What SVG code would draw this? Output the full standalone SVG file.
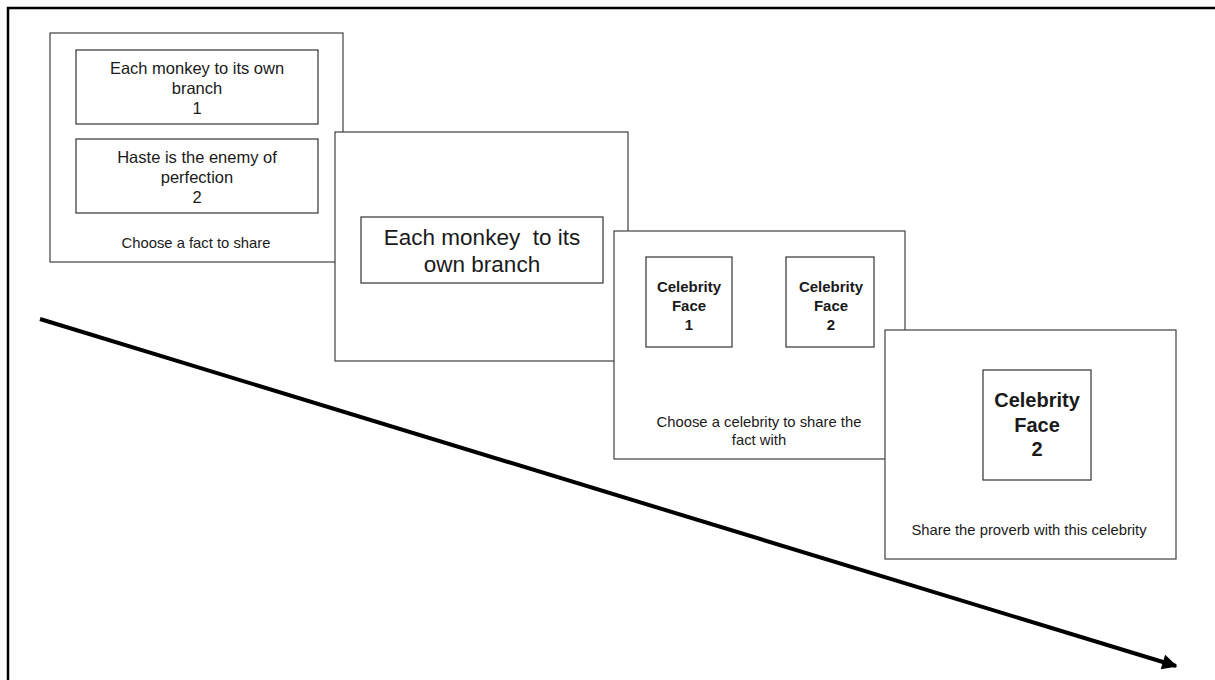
<svg xmlns="http://www.w3.org/2000/svg" width="1215" height="680" viewBox="0 0 1215 680">
<style>
.frame{fill:none;stroke:#000;stroke-width:2.5}
.panel{fill:#fff;stroke:#404040;stroke-width:1.2}
.box{fill:#fff;stroke:#333;stroke-width:1.2}
text{font-family:"Liberation Sans",Arial,sans-serif;fill:#1a1a1a;text-anchor:middle;dominant-baseline:central}
.t16{font-size:16.5px}
.t15{font-size:14.8px}
.t22{font-size:22.5px}
.b15{font-size:15px;font-weight:bold}
.b20{font-size:20px;font-weight:bold}
</style>
<defs>
<marker id="ah" viewBox="0 0 10 10" refX="9" refY="5" markerWidth="4.2" markerHeight="3.8" orient="auto" markerUnits="strokeWidth">
<path d="M0,0 L10,5 L0,10 z" fill="#000"/>
</marker>
</defs>
<rect width="1215" height="680" fill="#fff"/>
<path class="frame" d="M8,690 V8 H1220"/>
<g id="panel1">
<rect class="panel" x="50" y="33" width="293" height="229"/>
<rect class="box" x="76" y="50" width="242" height="74"/>
<text class="t16" x="197" y="68">Each monkey to its own</text>
<text class="t16" x="197" y="88">branch</text>
<text class="t16" x="197" y="108">1</text>
<rect class="box" x="76" y="139" width="242" height="74"/>
<text class="t16" x="197" y="157">Haste is the enemy of</text>
<text class="t16" x="197" y="177">perfection</text>
<text class="t16" x="197" y="197">2</text>
<text class="t15" x="196" y="243">Choose a fact to share</text>
</g>
<g id="panel2">
<rect class="panel" x="335" y="132" width="293" height="229"/>
<rect class="box" x="361" y="217" width="242" height="66"/>
<text class="t22" x="482" y="237" xml:space="preserve">Each monkey  to its</text>
<text class="t22" x="482" y="264">own branch</text>
</g>
<g id="panel3">
<rect class="panel" x="614" y="231" width="291" height="228"/>
<rect class="box" x="646" y="257" width="86" height="90"/>
<text class="b15" x="689" y="286">Celebrity</text>
<text class="b15" x="689" y="305">Face</text>
<text class="b15" x="689" y="324">1</text>
<rect class="box" x="786" y="257" width="88" height="90"/>
<text class="b15" x="831" y="286">Celebrity</text>
<text class="b15" x="831" y="305">Face</text>
<text class="b15" x="831" y="324">2</text>
<text class="t15" x="759" y="422">Choose a celebrity to share the</text>
<text class="t15" x="759" y="440">fact with</text>
</g>
<g id="panel4">
<rect class="panel" x="885" y="330" width="291" height="229"/>
<rect class="box" x="983" y="370" width="108" height="110"/>
<text class="b20" x="1037" y="400">Celebrity</text>
<text class="b20" x="1037" y="425">Face</text>
<text class="b20" x="1037" y="449">2</text>
<text class="t15" x="1029" y="530">Share the proverb with this celebrity</text>
</g>
<g id="connectors">
<line x1="40" y1="319" x2="1176" y2="666" stroke="#000" stroke-width="4" marker-end="url(#ah)"/>
</g>
</svg>
